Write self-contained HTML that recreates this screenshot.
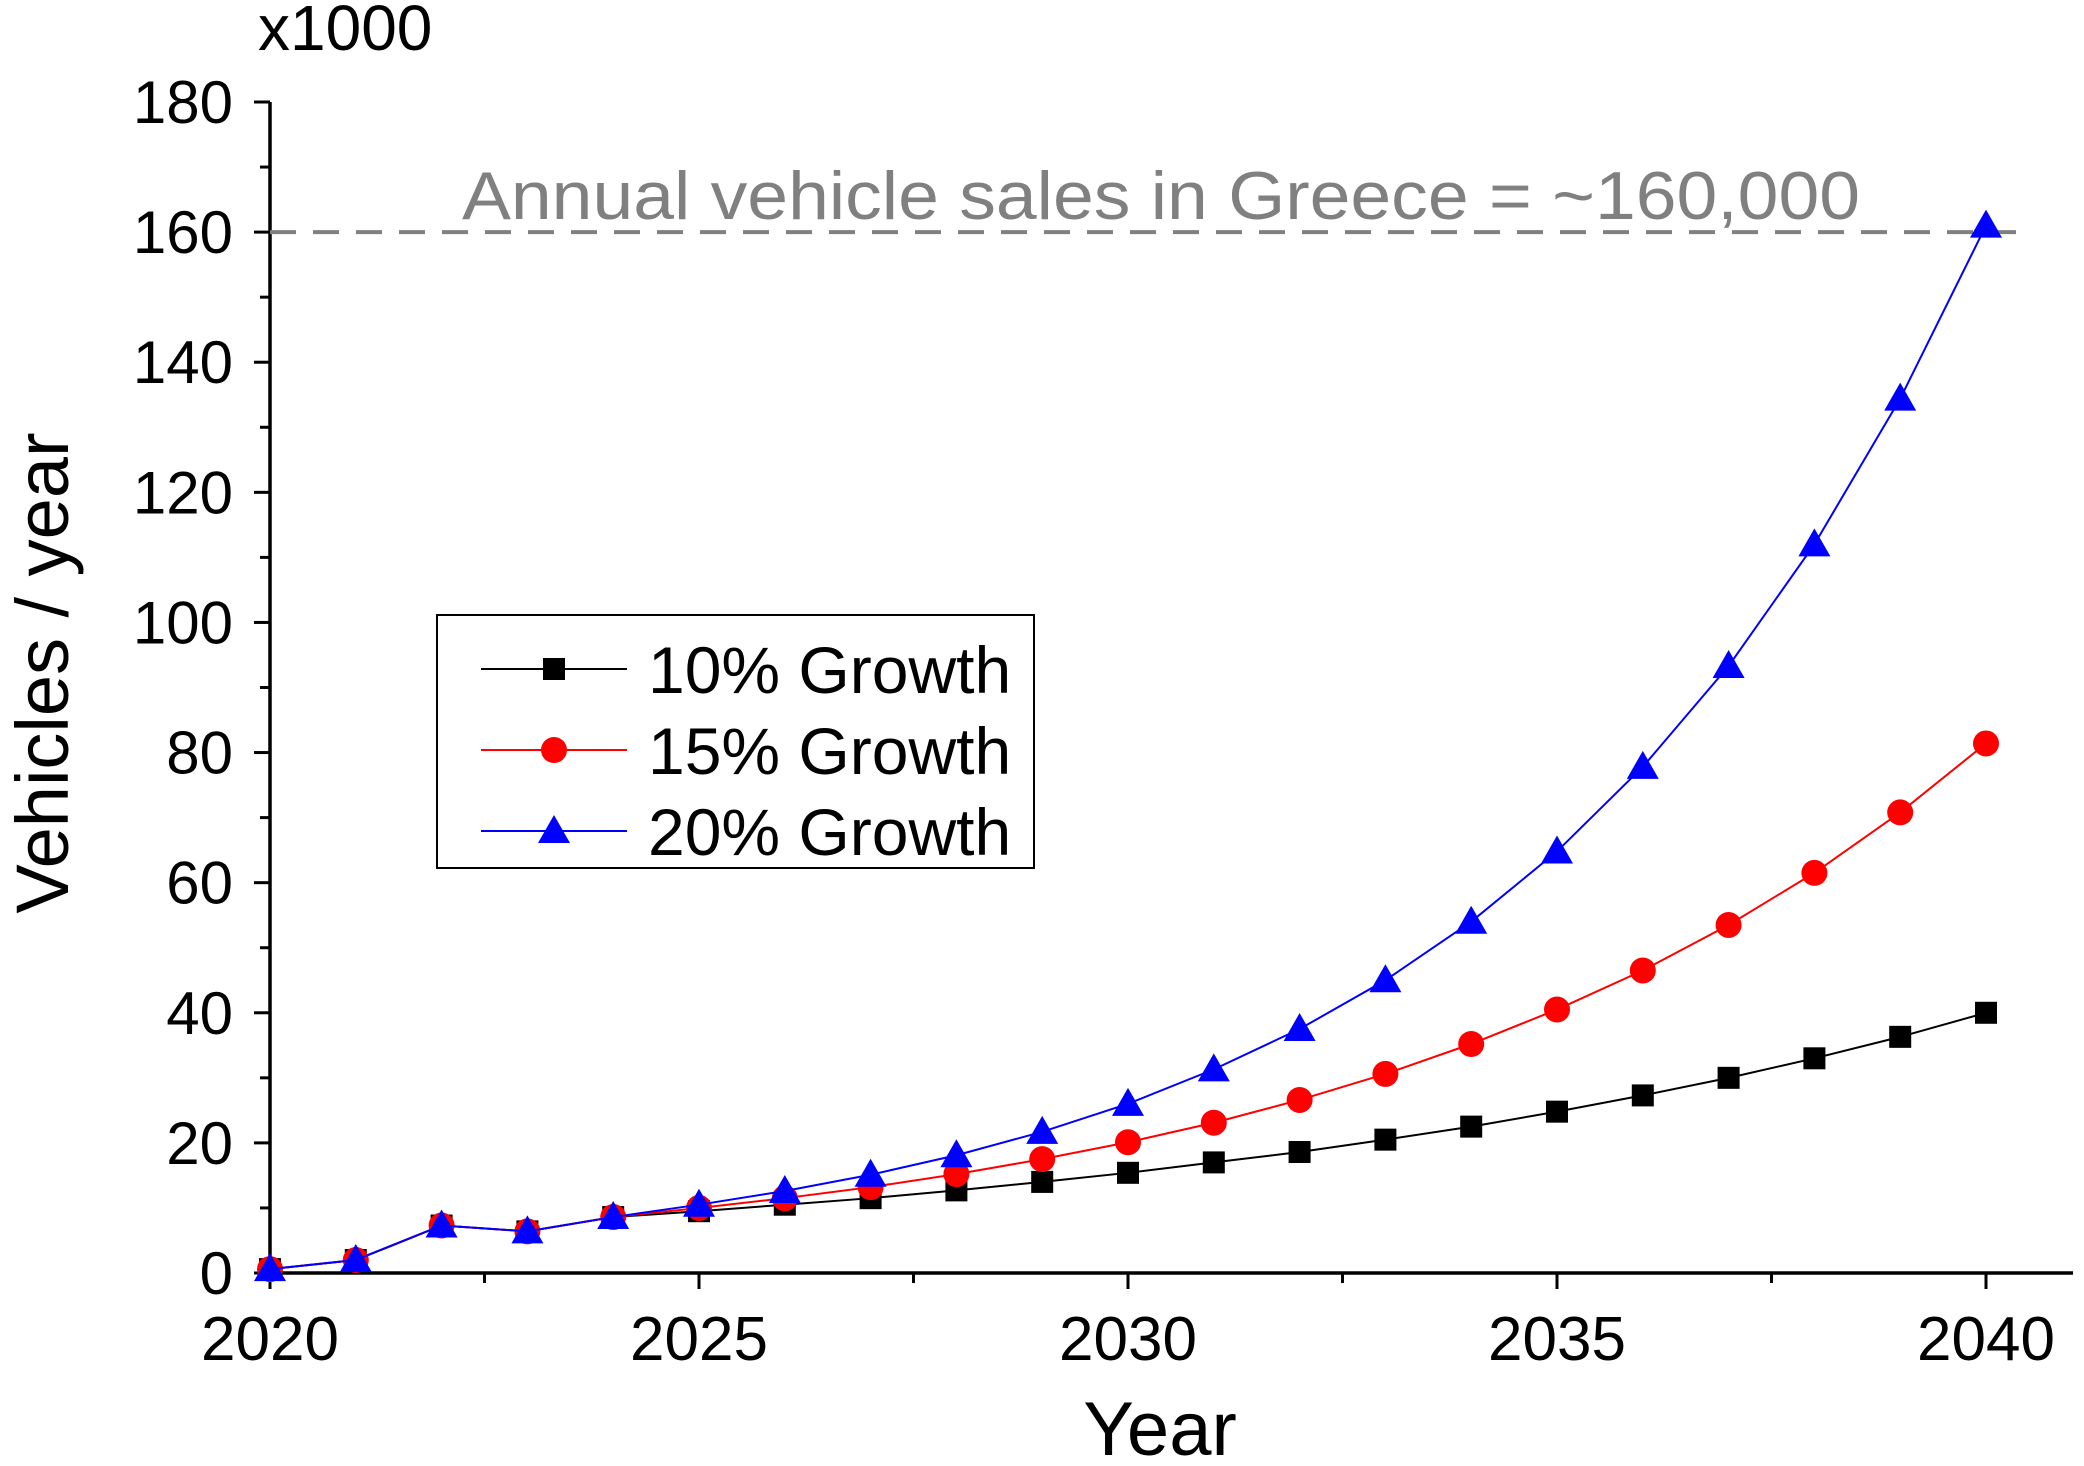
<!DOCTYPE html>
<html><head><meta charset="utf-8"><style>
html,body{margin:0;padding:0;background:#fff;}
svg{display:block;font-family:"Liberation Sans",Arial,sans-serif;}
</style></head><body>
<svg id="chart" width="2084" height="1466" viewBox="0 0 2084 1466">
<g id="axes"></g>
<g id="plot"></g>
<g id="legend"></g>
</svg>
<script>
const years = [2020,2021,2022,2023,2024,2025,2026,2027,2028,2029,2030,2031,2032,2033,2034,2035,2036,2037,2038,2039,2040];
const growth10 = [0.6,2,7.3,6.4,8.6,9.5,10.5,11.5,12.7,14,15.4,17,18.6,20.5,22.5,24.8,27.3,30,33,36.3,40];
const growth15 = [0.6,2,7.3,6.4,8.6,10,11.5,13.2,15.2,17.5,20.1,23.1,26.6,30.6,35.2,40.5,46.5,53.5,61.5,70.8,81.4];
const growth20 = [0.6,2,7.3,6.4,8.6,10.5,12.6,15.1,18.1,21.7,26,31.3,37.5,45,54,64.8,77.8,93.3,112,134.4,161];
const yTicks = [0,20,40,60,80,100,120,140,160,180];
const xTicks = [2020,2025,2030,2035,2040];
const refLine = 160;

const NS="http://www.w3.org/2000/svg";
const X0=270,X1=1986,Y0=1273,Y1=102;
function xs(v){return X0+(v-2020)/20*(X1-X0);}
function ys(v){return Y0-v/180*(Y0-Y1);}
function mk(tag,attrs,parent,text){const e=document.createElementNS(NS,tag);for(const k in attrs)e.setAttribute(k,attrs[k]);if(text!==undefined)e.textContent=text;parent.appendChild(e);return e;}
const axes=document.getElementById('axes'),plot=document.getElementById('plot'),legend=document.getElementById('legend');

let e=mk('line',{x1:X0,y1:Y1,x2:X0,y2:Y0+2,stroke:'#000','stroke-width':3.5},axes);

e=mk('line',{x1:X0-2,y1:Y0,x2:2073,y2:Y0,stroke:'#000','stroke-width':3.5},axes);

for(let v=0;v<=180;v+=10){const y=ys(v);const major=v%20===0;
 e=mk('line',{x1:X0-(major?16:10),y1:y,x2:X0,y2:y,stroke:'#000','stroke-width':3},axes);
 }
yTicks.forEach(v=>{e=mk('text',{x:X0-37,y:ys(v)+21,'text-anchor':'end','font-size':60},axes,String(v));
 });
for(let v=2020;v<=2041;v+=2.5){const x=xs(v);const major=(v%5===0);
 e=mk('line',{x1:x,y1:Y0,x2:x,y2:Y0+(major?16:10),stroke:'#000','stroke-width':3},axes);
 }
xTicks.forEach(v=>{e=mk('text',{x:xs(v),y:1360,'text-anchor':'middle','font-size':62},axes,String(v));
 });
e=mk('text',{x:1160,y:1455,'text-anchor':'middle','font-size':76},axes,'Year');

e=mk('text',{x:0,y:0,'text-anchor':'middle','font-size':74,transform:'translate(68,673) rotate(-90)'},axes,'Vehicles / year');

e=mk('text',{x:258,y:50,'font-size':64},axes,'x1000');


e=mk('line',{x1:X0,y1:ys(refLine),x2:2027,y2:ys(refLine),stroke:'#808080','stroke-width':4,'stroke-dasharray':'26,17'},plot);

e=mk('text',{x:462,y:219,'font-size':68,fill:'#808080',textLength:1398,lengthAdjust:'spacingAndGlyphs'},plot,'Annual vehicle sales in Greece = ~160,000');


function marker(type,x,y,color,parent){let m;
 if(type==='square')m=mk('rect',{x:x-11,y:y-11,width:22,height:22,fill:color},parent);
 else if(type==='circle')m=mk('circle',{cx:x,cy:y,r:13,fill:color},parent);
 else m=mk('polygon',{points:`${x},${y-16} ${x+16},${y+12} ${x-16},${y+12}`,fill:color},parent);
 return m;}
const series=[[growth10,'#000','square','10% Growth','series-10pct'],[growth15,'#ff0000','circle','15% Growth','series-15pct'],[growth20,'#0000ff','triangle','20% Growth','series-20pct']];
series.forEach(([vals,col,type,label,name])=>{
 const g=mk('g',{},plot);
 const pts=vals.map((v,i)=>xs(years[i])+','+ys(v)).join(' ');
 const l=mk('polyline',{points:pts,fill:'none',stroke:col,'stroke-width':2},g);
 
 vals.forEach((v,i)=>{const m=marker(type,xs(years[i]),ys(v),col,g);
  });
});

e=mk('rect',{x:437,y:615,width:597,height:253,fill:'#fff',stroke:'#000','stroke-width':2},legend);

const ly=[669,750,831];
series.forEach(([vals,col,type,label,name],i)=>{
 const g=mk('g',{},legend);
 mk('line',{x1:481,y1:ly[i],x2:627,y2:ly[i],stroke:col,'stroke-width':2},g);
 marker(type,554,ly[i],col,g);
 mk('text',{x:648,y:ly[i]+24,'font-size':66},g,label);
});
</script>
</body></html>
